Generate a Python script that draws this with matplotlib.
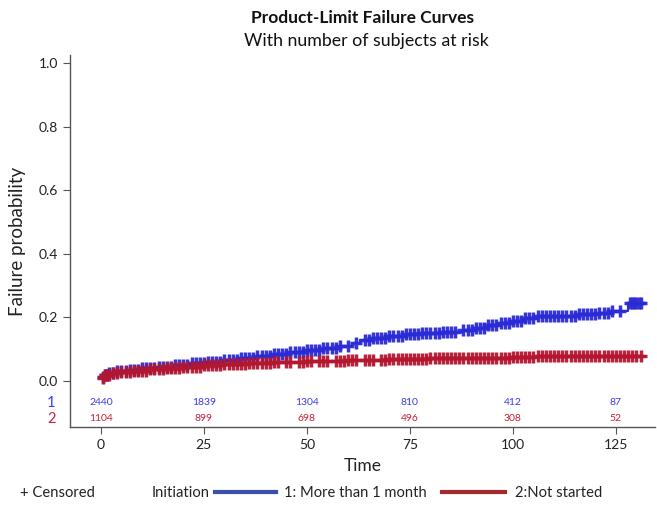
import numpy as np
import matplotlib.pyplot as plt
from matplotlib.lines import Line2D

plt.rcParams['font.family'] = ['Lato', 'DejaVu Sans']

# step curve knots (time, failure probability)
t_blue = [0, 1, 2, 4, 7, 10, 14, 18, 22, 26, 30, 34, 38, 42, 46, 50, 54, 58, 61, 63,
          66, 70, 74, 78, 83, 88, 91, 94, 97, 100, 103, 106, 116, 121, 124, 128, 132]
f_blue = [0.013, 0.02, 0.025, 0.03, 0.035, 0.04, 0.045, 0.05, 0.055, 0.06, 0.065, 0.072,
          0.078, 0.085, 0.09, 0.096, 0.102, 0.11, 0.118, 0.128, 0.135, 0.142, 0.146, 0.15,
          0.155, 0.16, 0.168, 0.175, 0.182, 0.19, 0.198, 0.205, 0.212, 0.215, 0.22,
          0.245, 0.245]

t_red = [0, 1, 3, 5, 8, 12, 16, 20, 25, 30, 36, 42, 50, 60, 70, 80, 90, 100, 106, 132]
f_red = [0.01, 0.018, 0.024, 0.028, 0.032, 0.037, 0.041, 0.045, 0.049, 0.053, 0.057,
         0.06, 0.063, 0.066, 0.069, 0.071, 0.073, 0.075, 0.077, 0.077]

# censored times
cens_blue = [0.5, 1, 1.5, 2, 3, 4, 5, 6, 7, 8, 9, 10, 11, 12, 13, 14, 15, 16, 17, 18, 19,
             20, 21, 22, 23, 24, 25, 26, 27, 28, 29, 30, 31, 32, 33, 34, 35, 36, 37, 38,
             39, 40, 41, 42, 43, 44, 45, 46, 47, 48, 49, 50, 51, 52, 53, 54, 55, 56, 57,
             58, 60, 62, 64, 65, 66, 67, 68, 69, 70, 71, 72, 73, 74, 75, 76, 77, 78, 79,
             80, 81, 82, 83, 84, 85, 86, 88, 89, 90, 91, 92, 93, 94, 95, 96, 97, 98, 99,
             100, 101, 102, 103, 104, 105, 106, 107, 108, 109, 110, 111, 112, 113, 114,
             115, 116, 117, 118, 119, 120, 121, 122, 123, 124, 126, 128.5, 129,
             129.5, 130, 130.5, 131]
cens_red = [0.5, 1, 1.5, 2, 3, 4, 5, 6, 7, 8, 9, 10, 11, 12, 13, 14, 15, 16, 17, 18, 19,
            20, 21, 22, 23, 24, 25, 26, 27, 28, 29, 30, 31, 32, 33, 34, 35, 36, 37, 38,
            39, 40, 41, 42, 43, 45, 46, 48, 49, 50, 51, 53, 54, 55, 57, 58, 59, 60, 61,
            62, 64, 65, 66, 68, 69, 70, 71, 72, 73, 74, 75, 76, 77, 78, 79, 80, 81, 82,
            83, 84, 85, 86, 87, 88, 89, 90, 91, 92, 93, 94, 95, 96, 97, 98, 99, 100, 101,
            102, 103, 104, 105, 106, 107, 108, 109, 110, 111, 112, 113, 114, 115, 116,
            117, 118, 119, 120, 121, 122, 123, 124, 125, 126, 127, 128, 129, 130, 131]

# number at risk
risk_t = [0, 25, 50, 75, 100, 125]
risk_blue = [2440, 1839, 1304, 810, 412, 87]
risk_red = [1104, 899, 698, 496, 308, 52]

c_blue = '#2b2bd6'
c_red = '#b3172f'
txt_blue = '#3a3af0'
txt_red = '#c8203a'


def step_at(tk, fk, tq):
    idx = np.searchsorted(tk, tq, side='right') - 1
    return np.array(fk)[idx]


fig = plt.figure(figsize=(6.57, 5.08), dpi=100)
ax = fig.add_axes([0.1065, 0.1594, 0.8905, 0.7323])

for tk, fk, cens, col in [(t_blue, f_blue, cens_blue, c_blue), (t_red, f_red, cens_red, c_red)]:
    ax.step(tk, fk, where='post', color=col, lw=1.5)
    ax.plot(cens, step_at(tk, fk, cens), ls='none', marker='+', ms=8.5, mew=2.5, color=col,
            alpha=0.95)

ax.set_xlim(-7.5, 134.5)
ax.set_ylim(-0.145, 1.025)
ax.set_yticks([0, 0.2, 0.4, 0.6, 0.8, 1.0])
ax.set_yticklabels(['0.0', '0.2', '0.4', '0.6', '0.8', '1.0'])
ax.set_xticks(risk_t)
ax.spines['top'].set_visible(False)
ax.spines['right'].set_visible(False)
for s in ['left', 'bottom']:
    ax.spines[s].set_color('#555555')
    ax.spines[s].set_linewidth(1.0)
ax.tick_params(colors='#555555', labelcolor='#222222', labelsize=10, length=5)

# at-risk table
for t, nb, nr in zip(risk_t, risk_blue, risk_red):
    ax.text(t, -0.069, str(nb), color=txt_blue, fontsize=7.5, ha='center', va='center')
    ax.text(t, -0.119, str(nr), color=txt_red, fontsize=7.5, ha='center', va='center')
ax.text(-12, -0.069, '1', color=txt_blue, fontsize=10.5, ha='center', va='center', clip_on=False)
ax.text(-12, -0.119, '2', color=txt_red, fontsize=10.5, ha='center', va='center', clip_on=False)

ax.set_xlabel('Time', fontsize=12.5, color='#222222', labelpad=5)
ax.set_ylabel('Failure probability', fontsize=13.5, color='#222222', labelpad=9)

fig.text(0.551, 0.964, 'Product-Limit Failure Curves', ha='center', va='center',
         fontsize=12.5, fontweight='bold', color='#111111')
fig.text(0.557, 0.919, 'With number of subjects at risk', ha='center', va='center',
         fontsize=12.8, color='#111111')

# legend row
ly = 0.016
fig.text(0.03, ly, '+ Censored', fontsize=10.6, va='bottom', color='#222222')
fig.text(0.231, ly, 'Initiation', fontsize=10.6, va='bottom', color='#222222')
fig.add_artist(Line2D([0.327, 0.420], [ly + 0.016, ly + 0.016], color='#3a4fae', lw=3))
fig.text(0.433, ly, '1: More than 1 month', fontsize=10.6, va='bottom', color='#222222')
fig.add_artist(Line2D([0.673, 0.768], [ly + 0.016, ly + 0.016], color='#a8282a', lw=3))
fig.text(0.784, ly, '2:Not started', fontsize=10.6, va='bottom', color='#222222')

fig.savefig('out.png', dpi=100)
